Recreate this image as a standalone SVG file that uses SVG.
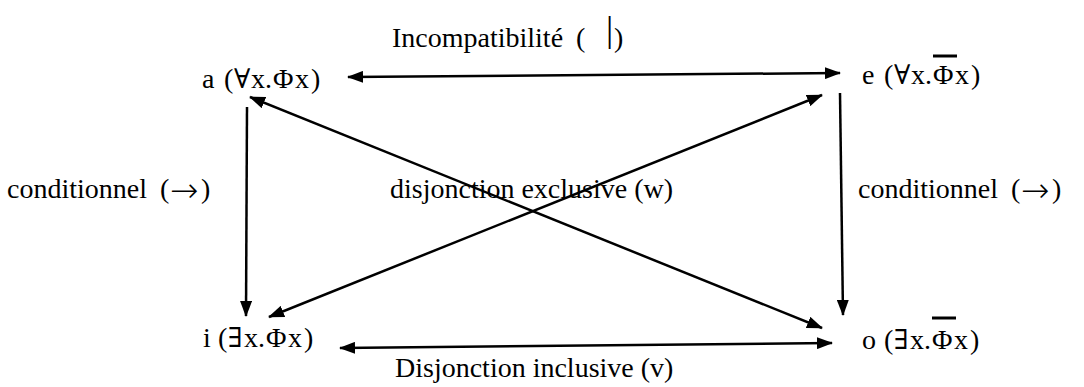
<svg xmlns="http://www.w3.org/2000/svg" width="1084" height="387" viewBox="0 0 1084 387">
<style>
text{font-family:"Liberation Serif","Times New Roman","DejaVu Serif",serif;font-size:28px;fill:#000}
.sym{font-family:"DejaVu Serif",serif;font-size:27px}
.arr{font-family:"DejaVu Sans",sans-serif;font-size:34px;font-weight:200}
.c{stroke:#000;stroke-width:2.5;fill:none}
.ov{stroke:#000;stroke-width:3}
</style>
<defs>
<marker id="ah" viewBox="0 0 16 12" refX="15" refY="6" markerWidth="16" markerHeight="12" markerUnits="userSpaceOnUse" orient="auto-start-reverse">
<path d="M0,0 L16,6 L0,12 z" fill="#000"/>
</marker>
</defs>
<rect width="1084" height="387" fill="#fff"/>
<g id="connectors">
<line class="c" x1="348" y1="77" x2="840" y2="73" marker-start="url(#ah)" marker-end="url(#ah)"/>
<line class="c" x1="247" y1="107" x2="246" y2="316" marker-end="url(#ah)"/>
<line class="c" x1="840" y1="93" x2="843" y2="315" marker-end="url(#ah)"/>
<line class="c" x1="250" y1="97" x2="822" y2="328" marker-start="url(#ah)" marker-end="url(#ah)"/>
<line class="c" x1="269" y1="317" x2="822" y2="95" marker-start="url(#ah)" marker-end="url(#ah)"/>
<line class="c" x1="340" y1="348" x2="832" y2="343" marker-start="url(#ah)" marker-end="url(#ah)"/>
</g>
<g id="label-top"><text x="392" y="47">Incompatibilité<tspan x="576">(</tspan><tspan x="606" y="41" style="font-size:36px">|</tspan><tspan x="614" y="47">)</tspan></text></g>
<g id="node-a"><text y="88"><tspan x="202">a</tspan><tspan x="224">(</tspan><tspan x="234" class="sym">∀</tspan><tspan x="251">x.</tspan><tspan x="273">Φ</tspan><tspan x="295">x</tspan><tspan x="311">)</tspan></text></g>
<g id="node-e"><text y="84"><tspan x="862">e</tspan><tspan x="884">(</tspan><tspan x="894" class="sym">∀</tspan><tspan x="911">x.</tspan><tspan x="933">Φ</tspan><tspan x="955">x</tspan><tspan x="971">)</tspan></text><line class="ov" x1="933" y1="56" x2="957" y2="56"/></g>
<g id="label-left"><text x="7" y="198">conditionnel<tspan x="160">(</tspan><tspan class="arr" x="170" y="202">→</tspan><tspan x="201" y="198">)</tspan></text></g>
<g id="label-center"><text x="390" y="198">disjonction exclusive (w)</text></g>
<g id="label-right"><text x="858" y="198">conditionnel<tspan x="1011">(</tspan><tspan class="arr" x="1021" y="202">→</tspan><tspan x="1052" y="198">)</tspan></text></g>
<g id="node-i"><text y="347"><tspan x="203">i</tspan><tspan x="218">(</tspan><tspan x="228" class="sym">∃</tspan><tspan x="244">x.</tspan><tspan x="266">Φ</tspan><tspan x="288">x</tspan><tspan x="304">)</tspan></text></g>
<g id="node-o"><text y="349"><tspan x="862">o</tspan><tspan x="884">(</tspan><tspan x="894" class="sym">∃</tspan><tspan x="910">x.</tspan><tspan x="932">Φ</tspan><tspan x="954">x</tspan><tspan x="970">)</tspan></text><line class="ov" x1="932" y1="318" x2="956" y2="318"/></g>
<g id="label-bottom"><text x="395" y="377">Disjonction inclusive (v)</text></g>
</svg>
